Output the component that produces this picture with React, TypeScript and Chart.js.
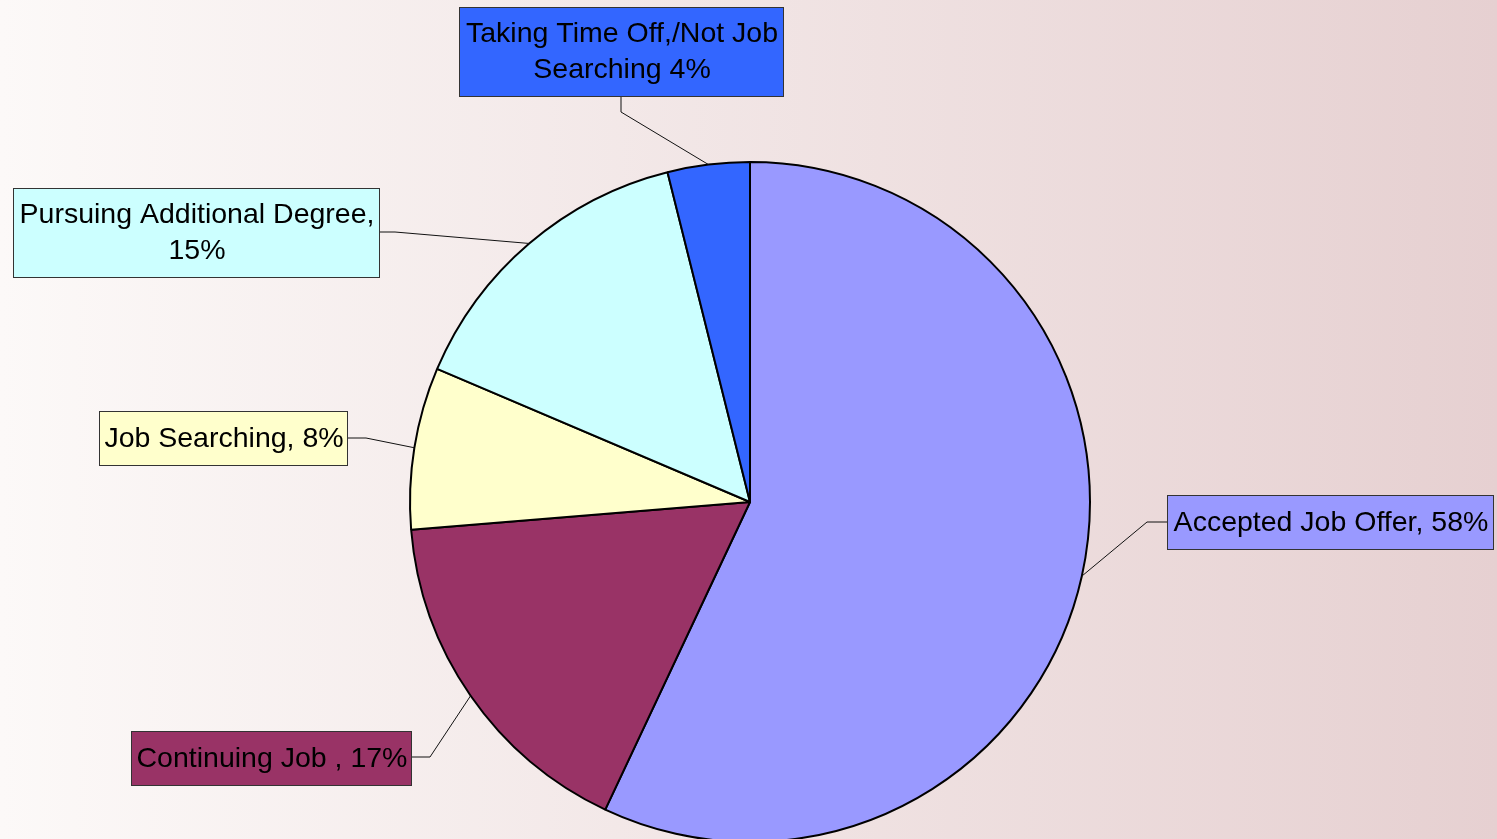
import React, { useEffect, useRef } from "react";
import { Chart, registerables } from "chart.js";

Chart.register(...registerables);

const categories = [
  "Accepted Job Offer",
  "Continuing Job ",
  "Job Searching",
  "Pursuing Additional Degree",
  "Taking Time Off,/Not Job Searching",
];
const shares = [57.0, 16.7, 7.7, 14.7, 3.9];
const labelLines = [
  ["Accepted Job Offer, 58%"],
  ["Continuing Job , 17%"],
  ["Job Searching, 8%"],
  ["Pursuing Additional Degree,", "15%"],
  ["Taking Time Off,/Not Job", "Searching 4%"],
];
const sliceColors = ["#9999FF", "#993366", "#FFFFCC", "#CCFFFF", "#3366FF"];

// layout of label boxes (x, y, w, h) and leader-line anchor/elbow
const boxLayout = [
  { x: 1167, y: 495, w: 326, h: 54, ax: 1167, ay: 522, ex: 1147, ey: 522 },
  { x: 131, y: 731, w: 280, h: 54, ax: 411, ay: 757, ex: 430, ey: 757 },
  { x: 99, y: 411, w: 248, h: 54, ax: 347, ay: 438, ex: 366, ey: 438 },
  { x: 13, y: 188, w: 366, h: 89, ax: 379, ay: 232, ex: 395, ey: 232 },
  { x: 459, y: 7, w: 324, h: 89, ax: 621, ay: 96, ex: 621, ey: 112 },
];

const labelPlugin = {
  id: "boxLabels",
  afterDatasetsDraw(chart: any) {
    const ctx = chart.ctx as CanvasRenderingContext2D;
    const meta = chart.getDatasetMeta(0);
    ctx.save();
    meta.data.forEach((arc: any, i: number) => {
      const p = arc.getProps(["x", "y", "startAngle", "endAngle", "outerRadius"], true);
      const mid = (p.startAngle + p.endAngle) / 2;
      const px = p.x + Math.cos(mid) * p.outerRadius;
      const py = p.y + Math.sin(mid) * p.outerRadius;
      const b = boxLayout[i];
      // leader line
      ctx.beginPath();
      ctx.strokeStyle = "#111";
      ctx.lineWidth = 1;
      ctx.moveTo(b.ax, b.ay);
      ctx.lineTo(b.ex, b.ey);
      ctx.lineTo(px, py);
      ctx.stroke();
      // box
      ctx.fillStyle = sliceColors[i];
      ctx.fillRect(b.x, b.y, b.w, b.h);
      ctx.strokeStyle = "#333";
      ctx.lineWidth = 1;
      ctx.strokeRect(b.x + 0.5, b.y + 0.5, b.w, b.h);
      // text
      ctx.fillStyle = "#000";
      ctx.font = "28.5px 'Liberation Sans', Arial, sans-serif";
      ctx.textAlign = "center";
      ctx.textBaseline = "middle";
      const lines = labelLines[i];
      const lh = 36;
      const cy = b.y + b.h / 2 + 1;
      const startY = cy - ((lines.length - 1) * lh) / 2;
      lines.forEach((ln, k) => {
        ctx.fillText(ln, b.x + b.w / 2 + 1, startY + k * lh);
      });
    });
    ctx.restore();
  },
};

export default function App() {
  const ref = useRef<HTMLCanvasElement | null>(null);
  useEffect(() => {
    if (!ref.current) return;
    const chart = new Chart(ref.current, {
      type: "pie",
      data: {
        labels: categories,
        datasets: [
          {
            data: shares,
            backgroundColor: sliceColors,
            borderColor: "#000",
            borderWidth: 2,
          },
        ],
      },
      options: {
        responsive: false,
        animation: false,
        radius: 340,
        layout: { padding: { top: 165, left: 3, right: 0, bottom: 0 } },
        plugins: {
          legend: { display: false },
          tooltip: { enabled: false },
        },
      },
      plugins: [labelPlugin],
    });
    return () => chart.destroy();
  }, []);
  return (
    <div
      style={{
        position: "fixed",
        left: 0,
        top: 0,
        width: 1497,
        height: 839,
        background: "linear-gradient(to right, #FCF9F8, #E6D0D1)",
      }}
    >
      <canvas ref={ref} width={1497} height={839} style={{ display: "block" }} />
    </div>
  );
}
